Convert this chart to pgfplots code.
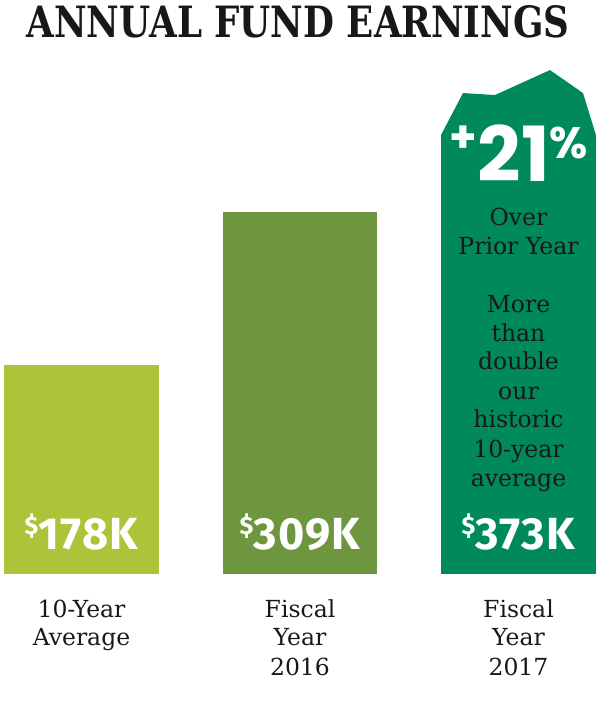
\documentclass[border=0pt]{standalone}
\usepackage{pgfplots}
\pgfplotsset{compat=1.18}
\usepackage{fontspec}
\usepackage{graphicx}
\setmainfont{DejaVu Serif}
\newfontfamily\numfont{Fira Sans}[LetterSpace=3]
\newfontfamily\bigfont{Poppins}
\definecolor{c1}{HTML}{AEC33A}
\definecolor{c2}{HTML}{6E963E}
\definecolor{c3}{HTML}{00895A}
\definecolor{txt}{HTML}{1A1718}
\newcommand{\body}{\fontsize{23.5}{28}\selectfont}
\begin{document}
\begin{tikzpicture}
\begin{axis}[
  x=218.5pt, y=1.172pt,
  xmin=-0.373, xmax=2.373, ymin=-109.2, ymax=489.8,
  hide axis, clip=false, enlargelimits=false,
]
\path (rel axis cs:0,0) rectangle (rel axis cs:1,1);
\addplot[ybar, bar width=0.709, bar shift=0pt, fill=c1, draw=none] coordinates {(0,178)};
\addplot[ybar, bar width=0.709, bar shift=0pt, fill=c2, draw=none] coordinates {(1,309)};
\addplot[ybar, bar width=0.709, bar shift=0pt, fill=c3, draw=none] coordinates {(2,373)};
\addplot[fill=c3, draw=none] coordinates {(1.6455,372) (1.6455,374.6) (1.7460,410.4) (1.8924,408.7) (2.1442,430.0) (2.2952,410.4) (2.3545,374.6) (2.3545,372)};
% title
\node[anchor=base, inner sep=0, text=txt] at (axis cs:0.991,458.2) {\resizebox{543pt}{32pt}{\bfseries ANNUAL FUND EARNINGS}};
% values
\node[anchor=base, text=white, inner sep=0] at (axis cs:0,20.5) {\numfont\bfseries\fontsize{45}{45}\selectfont\raisebox{15pt}{\fontsize{25}{25}\selectfont\$}178K};
\node[anchor=base, text=white, inner sep=0] at (axis cs:1,20.5) {\numfont\bfseries\fontsize{45}{45}\selectfont\raisebox{15pt}{\fontsize{25}{25}\selectfont\$}309K};
\node[anchor=base, text=white, inner sep=0] at (axis cs:2,20.5) {\numfont\bfseries\fontsize{45}{45}\selectfont\raisebox{15pt}{\fontsize{25}{25}\selectfont\$}373K};
% +21%
\node[anchor=base, text=white, inner sep=0] at (axis cs:2.002,334.5) {\bigfont\bfseries\fontsize{76}{76}\selectfont\raisebox{29pt}{\fontsize{44}{44}\selectfont+}21\raisebox{23pt}{\fontsize{44}{44}\selectfont\%}};
% text inside third bar
\node[anchor=base, text=txt, inner sep=0, font=\body] at (axis cs:2,297.8) {Over};
\node[anchor=base, text=txt, inner sep=0, font=\body] at (axis cs:2,273.0) {Prior Year};
\node[anchor=base, text=txt, inner sep=0, font=\body] at (axis cs:2,223.5) {More};
\node[anchor=base, text=txt, inner sep=0, font=\body] at (axis cs:2,198.8) {than};
\node[anchor=base, text=txt, inner sep=0, font=\body] at (axis cs:2,174.1) {double};
\node[anchor=base, text=txt, inner sep=0, font=\body] at (axis cs:2,149.3) {our};
\node[anchor=base, text=txt, inner sep=0, font=\body] at (axis cs:2,124.6) {historic};
\node[anchor=base, text=txt, inner sep=0, font=\body] at (axis cs:2,99.8) {10-year};
\node[anchor=base, text=txt, inner sep=0, font=\body] at (axis cs:2,75.1) {average};
% category labels
\node[anchor=base, text=txt, inner sep=0, font=\body] at (axis cs:0,-36.7) {10-Year};
\node[anchor=base, text=txt, inner sep=0, font=\body] at (axis cs:0,-61.4) {Average};
\node[anchor=base, text=txt, inner sep=0, font=\body] at (axis cs:1,-36.7) {Fiscal};
\node[anchor=base, text=txt, inner sep=0, font=\body] at (axis cs:1,-61.4) {Year};
\node[anchor=base, text=txt, inner sep=0, font=\body] at (axis cs:1,-86.2) {2016};
\node[anchor=base, text=txt, inner sep=0, font=\body] at (axis cs:2,-36.7) {Fiscal};
\node[anchor=base, text=txt, inner sep=0, font=\body] at (axis cs:2,-61.4) {Year};
\node[anchor=base, text=txt, inner sep=0, font=\body] at (axis cs:2,-86.2) {2017};
\end{axis}
\end{tikzpicture}
\end{document}
